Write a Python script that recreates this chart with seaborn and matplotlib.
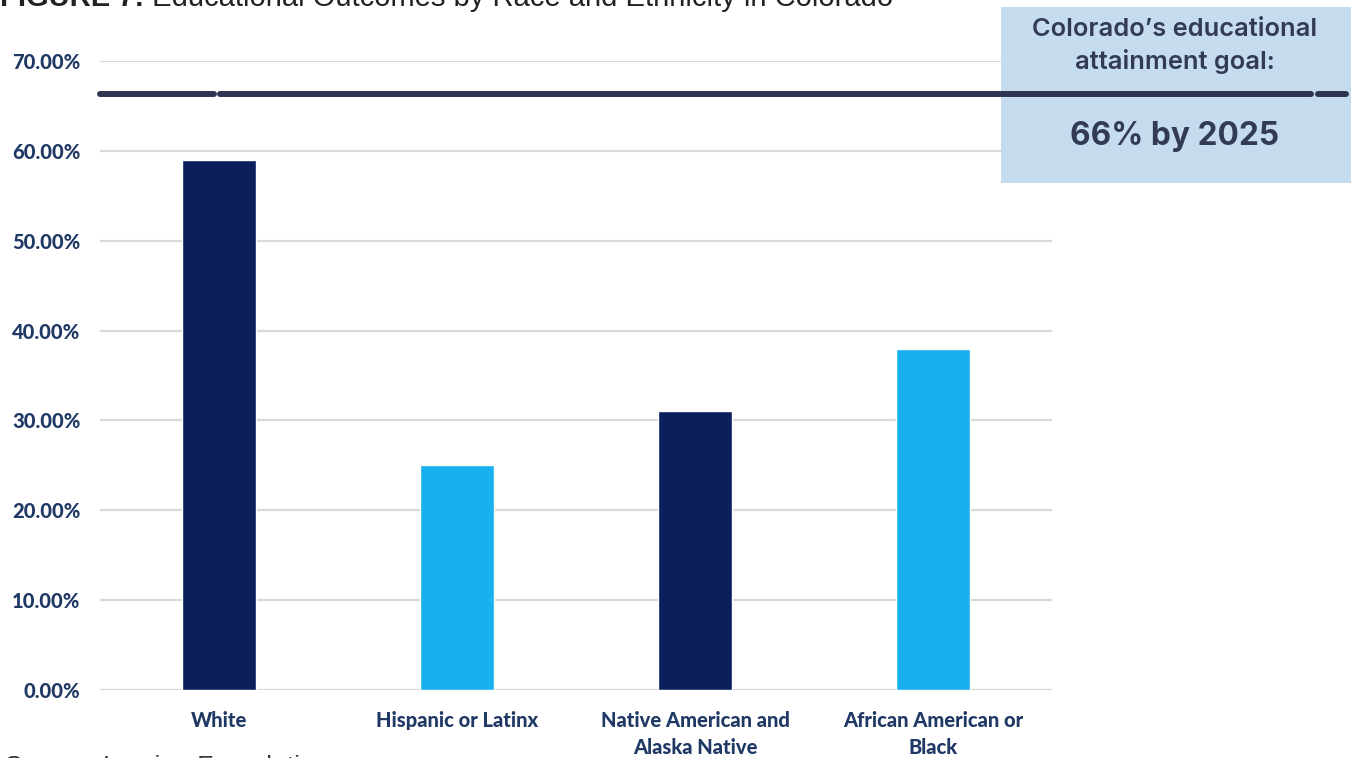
import matplotlib
matplotlib.use("Agg")
import matplotlib.pyplot as plt
import seaborn as sns
import pandas as pd
from matplotlib.patches import Rectangle
from matplotlib.ticker import FuncFormatter

categories = ["White", "Hispanic or Latinx", "Native American and\nAlaska Native", "African American or\nBlack"]
values = [59, 25, 31, 38]
bar_colors = ["#0b1f5c", "#1ab0ef", "#0b1f5c", "#1ab0ef"]
goal_value = 66.3
y_ticks = [0, 10, 20, 30, 40, 50, 60, 70]
title_bold = "FIGURE 7:"
title_rest = " Educational Outcomes by Race and Ethnicity in Colorado"
source_text = "Source: Lumina Foundation"
box_line1 = "Colorado\u2019s educational\nattainment goal:"
box_line2 = "66% by 2025"

df = pd.DataFrame({"category": categories, "value": values})

sns.set_theme(style="white")
plt.rcParams["font.family"] = ["Lato", "DejaVu Sans"]

fig = plt.figure(figsize=(13.51, 7.58), dpi=100)
W, H = 1351, 758
ax = fig.add_axes([100 / W, 1 - 690 / H, 952 / W, (690 - 61) / H])

sns.barplot(data=df, x="category", y="value", hue="category", palette=bar_colors,
            width=0.31, legend=False, ax=ax, saturation=1, zorder=2)

ax.set_xlim(-0.5, 3.5)
ax.set_ylim(0, 70)
ax.set_yticks(y_ticks)
ax.yaxis.set_major_formatter(FuncFormatter(lambda v, p: f"{v:.2f}%"))
ax.grid(axis="y", color="#d9d9d9", linewidth=1.6)
ax.set_axisbelow(True)
for s in ax.spines.values():
    s.set_visible(False)
ax.set_xlabel("")
ax.set_ylabel("")
ax.tick_params(axis="y", length=0, pad=14, labelsize=14.5, labelcolor="#1f3864")
ax.tick_params(axis="x", length=0, pad=15, labelsize=14.5, labelcolor="#1f3864")
for lab in ax.get_yticklabels() + ax.get_xticklabels():
    lab.set_fontweight("black")
for lab in ax.get_xticklabels():
    lab.set_linespacing(1.5)

# goal box
rect = Rectangle((1001 / W, 1 - 183 / H), 350 / W, 176 / H, transform=fig.transFigure,
                 facecolor="#c5dcef", edgecolor="none", clip_on=False, zorder=1.5)
ax.add_patch(rect)

# goal line (segments)
segs = [(0.0, 0.12), (0.126, 1.272), (1.279, 1.309)]
for a, b in segs:
    ax.axhline(goal_value, xmin=a, xmax=b, color="#2f3452", linewidth=4.3,
               solid_capstyle="round", clip_on=False, zorder=3)

fig.text(1175 / W, 1 - 46 / H, box_line1, ha="center", va="center", fontsize=18.3,
         fontweight="semibold", color="#333a56", family=["Inter", "DejaVu Sans"], linespacing=1.38)
fig.text(1175 / W, 1 - 137 / H, box_line2, ha="center", va="center", fontsize=22.8,
         fontweight="bold", color="#333a56", family=["Inter", "DejaVu Sans"])

# cropped title
t1 = fig.text(0 / W, 1 - 6 / H, title_bold, ha="left", va="baseline", fontsize=21,
              fontweight="bold", color="#222222", family=["Liberation Sans", "DejaVu Sans"])
fig.canvas.draw()
bb = t1.get_window_extent()
fig.text(bb.x1 / W, 1 - 6 / H, title_rest, ha="left", va="baseline", fontsize=21,
         color="#222222", family=["Liberation Sans", "DejaVu Sans"])

# cropped source
fig.text(5 / W, 1 - 774 / H, source_text, ha="left", va="baseline", fontsize=19,
         color="#333333", family=["Liberation Sans", "DejaVu Sans"])

fig.savefig("out.png", dpi=100)
